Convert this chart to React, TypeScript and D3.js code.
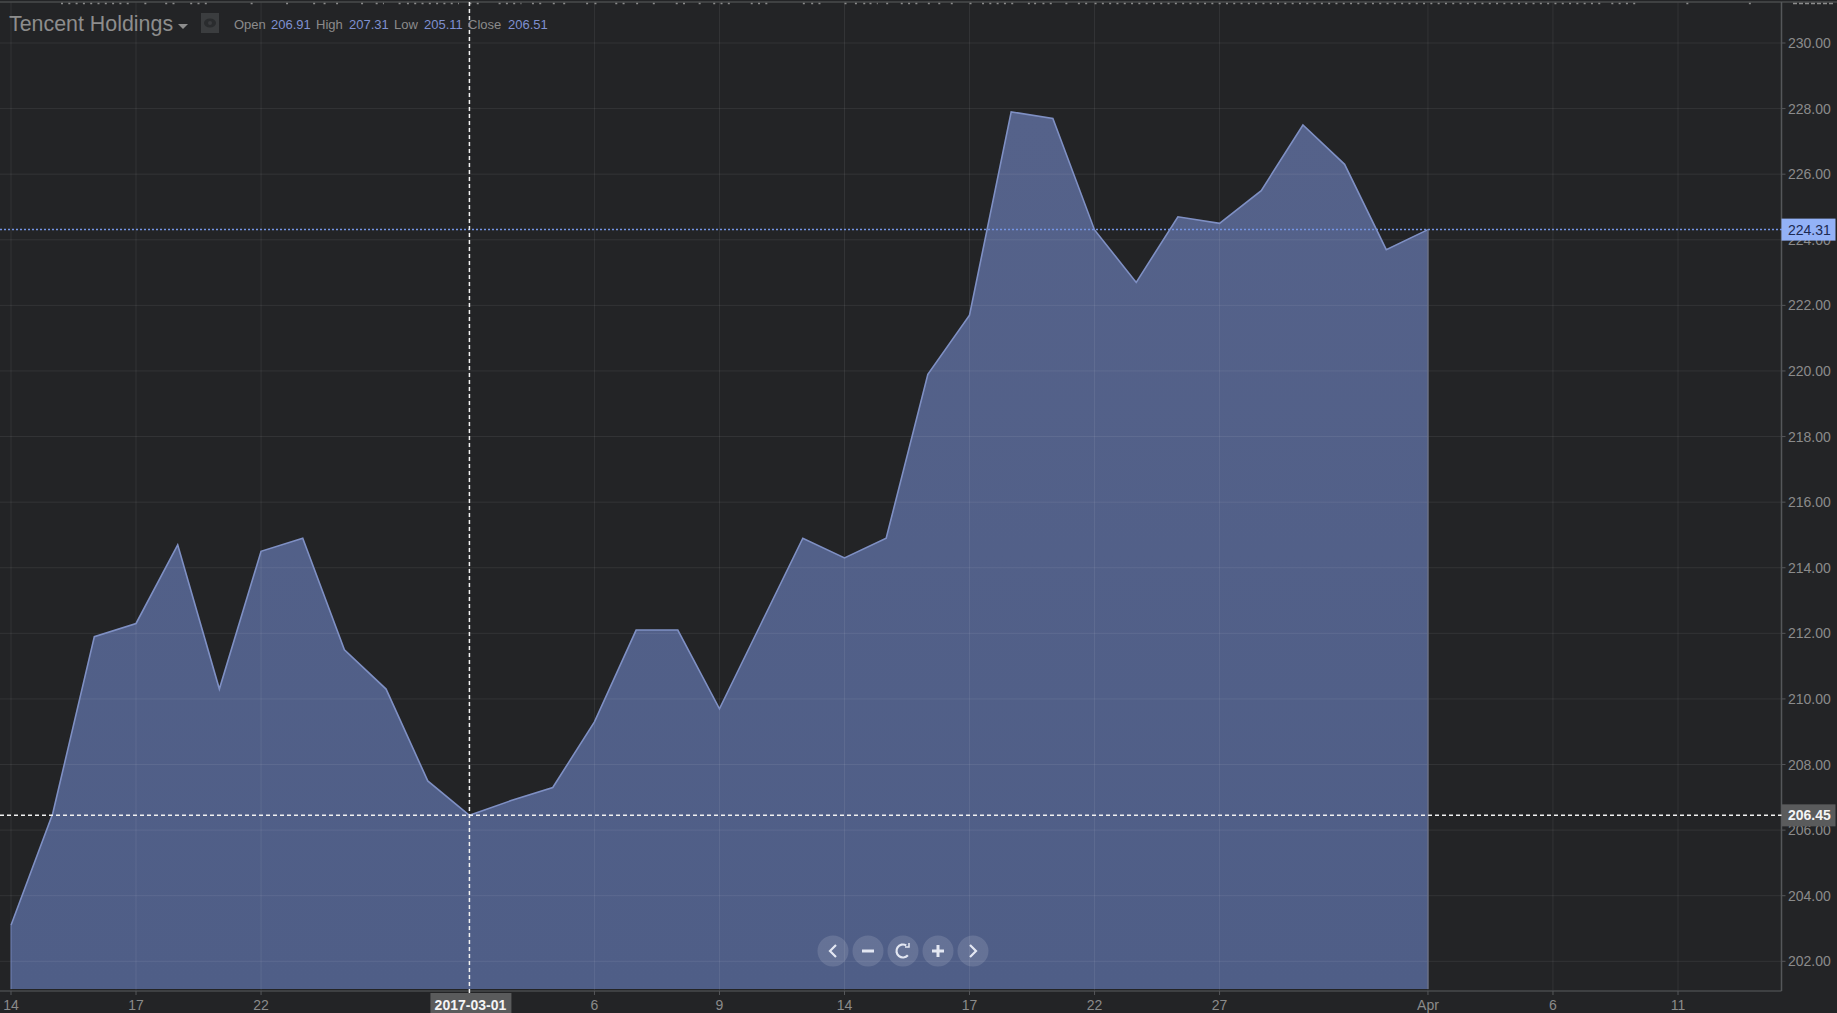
import * as d3 from "d3";

const WIDTH = 1837;
const HEIGHT = 1013;

// one entry per trading day, 14 Feb to 1 Apr 2017
const closes = [
    203.1, 206.5, 211.9, 212.3, 214.7, 210.3, 214.5, 214.9, 211.5, 210.3, 207.5,
    206.45, 206.9, 207.3, 209.3, 212.1, 212.1, 209.7, 212.3, 214.9, 214.3, 214.9,
    219.9, 221.7, 227.9, 227.7, 224.3, 222.7, 224.7, 224.5, 225.5, 227.5, 226.3,
    223.7, 224.31,
];
const xTickDays = [0, 3, 6, 11, 14, 17, 20, 23, 26, 29, 34, 37, 40];
const xTickLabels = ["14", "17", "22", "", "6", "9", "14", "17", "22", "27", "Apr", "6", "11"];
const yTicks = [202, 204, 206, 208, 210, 212, 214, 216, 218, 220, 222, 224, 226, 228, 230];
const ohlcLabels = ["Open", "High", "Low", "Close"];
const ohlcValues = ["206.91", "207.31", "205.11", "206.51"];
const ohlcLabelX = [234, 316, 394, 468];
const ohlcValueX = [271, 349, 424, 508];
const crosshairDay = 11;
const crosshairPrice = 206.45;
const lastPrice = 224.31;
// the cut off date labels along the top edge, in trading days
const topMarkSpans = [
    [1.2, 2.9], [3.2, 3.25], [3.7, 3.95], [4.3, 4.7], [5.75, 5.75], [6.6, 6.6], [7.25, 7.25],
    [7.5, 7.5], [7.8, 7.8], [8.4, 8.4], [8.75, 8.9], [9.3, 9.3], [9.5, 10.7], [11, 11.25],
    [11.7, 12.2], [12.5, 12.7], [13, 13], [13.25, 13.25], [13.8, 13.8], [14, 14], [14.5, 14.75],
    [15, 15], [15.4, 15.4], [15.95, 16.25], [16.5, 16.5], [16.85, 17.2], [17.75, 18.15],
    [19, 19], [19.2, 19.4], [20, 20], [20.25, 20.25], [20.45, 20.45], [20.6, 20.75], [21, 21],
    [21.35, 21.75], [22, 22], [22.25, 22.25], [22.55, 22.55], [23, 23], [23.3, 24.05],
    [24.4, 24.4], [24.55, 24.55], [24.75, 25], [25.3, 25.3], [25.6, 25.8], [26, 38.15],
    [38.4, 39], [40.2, 40.2], [41.7, 41.7],
];

const font = "'Liberation Sans', Arial, sans-serif";
const axisColor = "#8b8b8b";
const plotRight = 1781.5;
const plotBottom = 989;
const axisY = 991;

function NavButtons() {
    const cx = [833, 868, 903, 938, 973];
    const cy = 951;
    const glyph = { stroke: "#e3e7f2", strokeWidth: 2.2, fill: "none" };
    const resetArc = d3.arc()({
        innerRadius: 6.5,
        outerRadius: 6.5,
        startAngle: 2.3,
        endAngle: 6.8,
    }) as string;
    return (
        <g>
            {cx.map((x) => (
                <circle key={x} cx={x} cy={cy} r={15.5} fill="#ffffff" fillOpacity={0.13} />
            ))}
            <path d={`M${cx[0] + 3},${cy - 6}l-6,6l6,6`} {...glyph} />
            <path d={`M${cx[1] - 6},${cy}h12`} {...glyph} strokeWidth={3} />
            <path d={resetArc} transform={`translate(${cx[2]},${cy})`} {...glyph} />
            <path d={`M${cx[2] + 6},${cy - 8}v4h-4`} {...glyph} strokeWidth={1.5} />
            <path d={`M${cx[3] - 6},${cy}h12M${cx[3]},${cy - 6}v12`} {...glyph} strokeWidth={3} />
            <path d={`M${cx[4] - 3},${cy - 6}l6,6l-6,6`} {...glyph} />
        </g>
    );
}

export default function App() {
    const x = d3.scaleLinear([0, 40], [11, 1678]);
    const y = d3.scaleLinear([202, 230], [961.3, 43]);

    const area = d3
        .area<number>()
        .x((_, i) => x(i))
        .y0(plotBottom)
        .y1((d) => y(d));
    const line = d3
        .line<number>()
        .x((_, i) => x(i))
        .y((d) => y(d));

    const gridStroke = "rgba(255,255,255,0.075)";

    return (
        <svg
            width={WIDTH}
            height={HEIGHT}
            style={{ position: "absolute", left: 0, top: 0, display: "block", background: "#232426" }}
            fontFamily={font}
        >
            <defs>
                <linearGradient id="areaFill" x1="0" y1="0" x2="0" y2="1">
                    <stop offset="0" stopColor="#55628a" />
                    <stop offset="1" stopColor="#4f5e87" />
                </linearGradient>
            </defs>

            <path d={area(closes) ?? ""} fill="url(#areaFill)" />

            {/* grid */}
            {yTicks.map((t) => (
                <line key={t} x1={0} x2={plotRight} y1={y(t)} y2={y(t)} stroke={gridStroke} />
            ))}
            {xTickDays.map((d) => (
                <line key={d} x1={x(d)} x2={x(d)} y1={2} y2={axisY} stroke={gridStroke} />
            ))}

            <path d={line(closes) ?? ""} fill="none" stroke="#7f90c4" strokeWidth={1.6} />
            <line x1={x(0)} x2={x(0)} y1={y(closes[0])} y2={plotBottom} stroke="#6d7eb2" strokeWidth={1} />
            <line
                x1={x(closes.length - 1)}
                x2={x(closes.length - 1)}
                y1={y(lastPrice)}
                y2={plotBottom}
                stroke="#6a7086"
                strokeWidth={1.5}
            />

            {/* frame and clipped labels along the top */}
            <line x1={0} x2={WIDTH} y1={2} y2={2} stroke="#4a4b4d" strokeWidth={1.5} />
            {topMarkSpans.map(([a, b]) => (
                <line
                    key={a}
                    x1={x(a)}
                    x2={x(b) + 2}
                    y1={3.5}
                    y2={3.5}
                    stroke="#8c8c8c"
                    strokeWidth={1.5}
                    strokeDasharray="2 5.3"
                />
            ))}
            <line x1={1793} x2={1834} y1={3.5} y2={3.5} stroke="#8c8c8c" strokeWidth={1.5} strokeDasharray="4 2" />
            <line x1={0} x2={plotRight} y1={axisY} y2={axisY} stroke="#484a4c" strokeWidth={1.5} />
            <line x1={plotRight} x2={plotRight} y1={2} y2={axisY} stroke="#55575a" strokeWidth={1.5} />

            {/* y axis */}
            {yTicks.map((t) => (
                <g key={t}>
                    <line x1={plotRight} x2={plotRight + 4} y1={y(t)} y2={y(t)} stroke="#55575a" />
                    <text x={1788} y={y(t) + 5} fontSize={14} fill={axisColor}>
                        {t.toFixed(2)}
                    </text>
                </g>
            ))}

            {/* x axis */}
            {xTickDays.map((d, i) => (
                <g key={d}>
                    <line x1={x(d)} x2={x(d)} y1={axisY} y2={axisY + 4} stroke="#55575a" />
                    <text x={x(d)} y={1010} fontSize={14} fill={axisColor} textAnchor="middle">
                        {xTickLabels[i]}
                    </text>
                </g>
            ))}

            {/* last price */}
            <line
                x1={0}
                x2={plotRight + 4}
                y1={y(lastPrice)}
                y2={y(lastPrice)}
                stroke="#7394e4"
                strokeWidth={1.5}
                strokeDasharray="2 2"
            />
            <rect x={plotRight} y={y(lastPrice) - 11} width={54} height={22} fill="#93b2f7" />
            <text x={1788} y={y(lastPrice) + 5} fontSize={14} fill="#1c2a52">
                {lastPrice.toFixed(2)}
            </text>

            {/* crosshair */}
            <line
                x1={0}
                x2={plotRight + 4}
                y1={y(crosshairPrice)}
                y2={y(crosshairPrice)}
                stroke="#f2f2f2"
                strokeWidth={1.5}
                strokeDasharray="4 3"
            />
            <line
                x1={x(crosshairDay)}
                x2={x(crosshairDay)}
                y1={2}
                y2={995}
                stroke="#f2f2f2"
                strokeWidth={1.5}
                strokeDasharray="4 3"
            />
            <rect x={plotRight} y={y(crosshairPrice) - 11} width={54} height={22} fill="#5a5b5c" />
            <text x={1788} y={y(crosshairPrice) + 5} fontSize={14} fontWeight="bold" fill="#f4f4f4">
                {crosshairPrice.toFixed(2)}
            </text>
            <rect x={x(crosshairDay) - 39} y={993} width={81} height={20} fill="#5a5b5c" />
            <text x={x(crosshairDay) + 1} y={1010} fontSize={14} fontWeight="bold" fill="#f4f4f4" textAnchor="middle">
                2017-03-01
            </text>

            {/* header */}
            <text x={9} y={31} fontSize={21.4} fill="#8d8d8d">
                Tencent Holdings
            </text>
            <path d="M178,24h10l-5,5z" fill="#8d8d8d" />
            <rect x={201} y={13} width={18} height={20} fill="#3b3d3f" />
            <ellipse cx={210} cy={23} rx={6} ry={4.5} fill="#2a2c2e" />
            <circle cx={210} cy={23} r={2} fill="#3b3d3f" />
            {ohlcLabels.map((label, i) => (
                <g key={label} fontSize={13}>
                    <text x={ohlcLabelX[i]} y={29} fill={axisColor}>
                        {label}
                    </text>
                    <text x={ohlcValueX[i]} y={29} fill="#7f90d0">
                        {ohlcValues[i]}
                    </text>
                </g>
            ))}

            <NavButtons />
        </svg>
    );
}
